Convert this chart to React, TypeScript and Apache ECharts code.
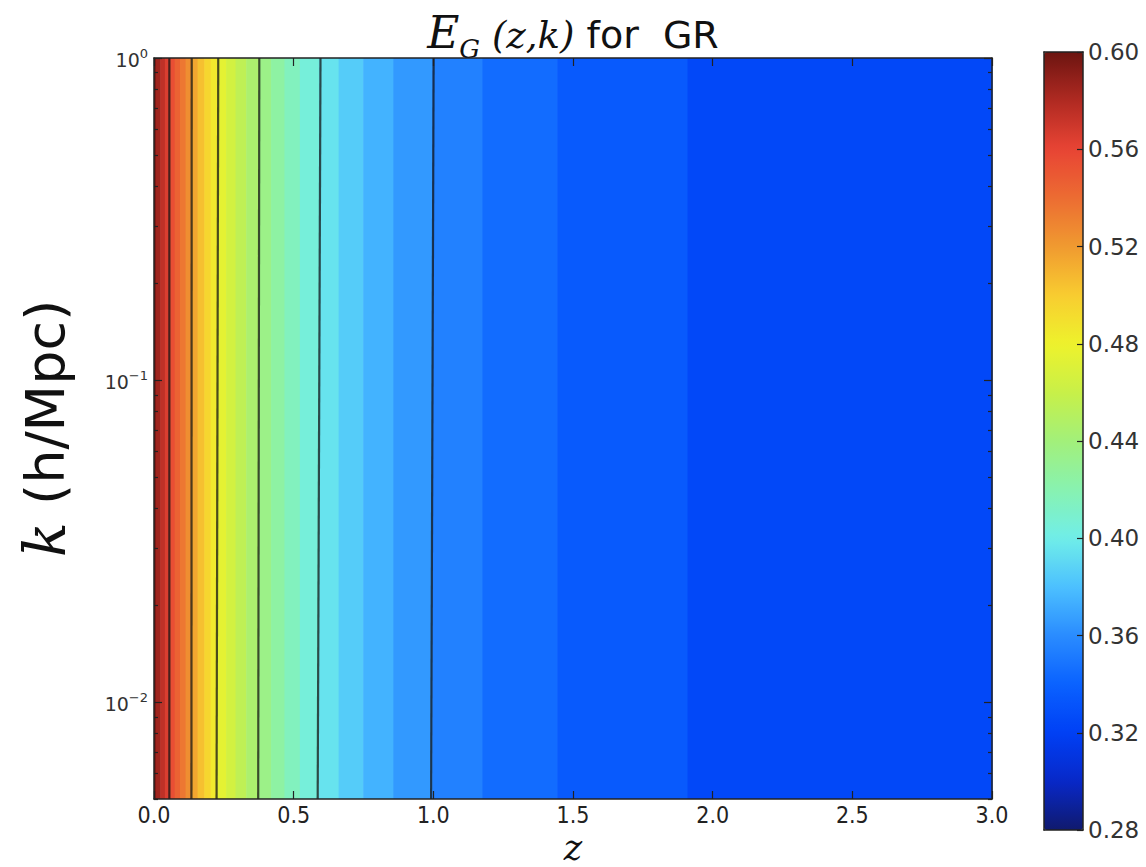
import React, { useEffect, useRef } from 'react';
import * as echarts from 'echarts';

// Filled-contour bands: band i spans z in [zEdges[i], zEdges[i+1]] with value bandValues[i]
const zEdges = [0, 0.007, 0.0225, 0.039, 0.056, 0.074, 0.093, 0.113, 0.133, 0.156, 0.18, 0.203, 0.226, 0.258, 0.292, 0.33, 0.376, 0.419, 0.467, 0.522, 0.59, 0.661, 0.749, 0.857, 0.996, 1.176, 1.444, 1.91, 3.0];
const bandValues = [0.595, 0.585, 0.575, 0.565, 0.555, 0.545, 0.535, 0.525, 0.515, 0.505, 0.495, 0.485, 0.475, 0.465, 0.455, 0.445, 0.435, 0.425, 0.415, 0.405, 0.395, 0.385, 0.375, 0.365, 0.355, 0.345, 0.335, 0.325];

// Contour lines (E_G levels) with z position at top (k=1) and bottom (k=kMin)
const contourLevels = [0.56, 0.52, 0.48, 0.44, 0.4, 0.36];
const contourZTop = [0.055, 0.135, 0.23, 0.377, 0.596, 1.001];
const contourZBottom = [0.055, 0.134, 0.224, 0.373, 0.586, 0.992];

const kMin = 0.005;
const kMax = 1;
const zMin = 0;
const zMax = 3;
const zInterval = 0.5;
const yMajorTicks = [0.01, 0.1, 1];
const yMinorTicks = [0.005, 0.006, 0.007, 0.008, 0.009, 0.02, 0.03, 0.04, 0.05, 0.06, 0.07, 0.08, 0.09, 0.2, 0.3, 0.4, 0.5, 0.6, 0.7, 0.8, 0.9];
const cbMin = 0.28;
const cbMax = 0.6;
const cbInterval = 0.04;

const colorStops = ['#101a6e', '#0828c8', '#0040f5', '#0a62ff', '#2a8cff', '#4cc0ff', '#70eee8', '#88f2b0', '#a2f07a', '#c8f048', '#eef22c', '#f8cc30', '#f09a30', '#ec6c32', '#e84434', '#b02a22', '#6c1410'];

const GRID = { left: 154, top: 58, width: 838, height: 741 };
const CB = { left: 1044, top: 52, width: 39, height: 778 };
const AX = '#222';

export default function App() {
  const ref = useRef<HTMLDivElement>(null);
  useEffect(() => {
    if (!ref.current) return;
    const chart = echarts.init(ref.current, undefined, { renderer: 'svg' });

    const bandData = bandValues.map((v, i) => [zEdges[i], zEdges[i + 1], v]);
    const lineSeries = contourLevels.map((lv, i) => ({
      type: 'line',
      name: 'EG=' + lv,
      xAxisIndex: 0,
      yAxisIndex: 0,
      data: [[contourZTop[i], kMax], [contourZBottom[i], kMin]],
      symbol: 'none',
      silent: true,
      z: 5,
      lineStyle: { color: 'rgba(20,20,20,0.75)', width: 2.2 },
    }));

    const supFmt = (v: number) => {
      const e = Math.round(Math.log10(v));
      return '{b|10}{s|' + (e < 0 ? '\u2212' + -e : String(e)) + '}';
    };

    const mainX = (pos: 'bottom' | 'top', labels: boolean) => ({
      type: 'value',
      gridIndex: 0,
      position: pos,
      min: zMin,
      max: zMax,
      interval: zInterval,
      z: 10,
      axisLine: { show: true, onZero: false, lineStyle: { color: AX, width: 1.5 } },
      axisTick: { show: true, inside: true, length: 8, lineStyle: { color: AX, width: 1.2 } },
      splitLine: { show: false },
      axisLabel: labels
        ? { show: true, fontSize: 23, lineHeight: 24, color: '#222', fontFamily: 'DejaVu Sans Condensed', margin: 4, formatter: (v: number) => v.toFixed(1) }
        : { show: false },
    });

    const mainY = (pos: 'left' | 'right', major: boolean, labels: boolean, showLine: boolean, named: boolean) => ({
      type: 'log',
      logBase: 10,
      gridIndex: 0,
      position: pos,
      min: kMin,
      max: kMax,
      z: 10,
      axisLine: { show: showLine, onZero: false, lineStyle: { color: AX, width: 1.5 } },
      axisTick: {
        show: true,
        inside: true,
        length: major ? 8 : 4,
        customValues: major ? yMajorTicks : yMinorTicks,
        lineStyle: { color: AX, width: 1.2 },
      },
      splitLine: { show: false },
      minorTick: { show: false },
      axisLabel: labels
        ? {
            show: true,
            customValues: yMajorTicks,
            formatter: supFmt,
            margin: 6,
            rich: {
              b: { fontSize: 19, color: '#333', fontFamily: 'DejaVu Sans', lineHeight: 22, verticalAlign: 'bottom' },
              s: { fontSize: 13, color: '#333', fontFamily: 'DejaVu Sans', lineHeight: 22, verticalAlign: 'top' },
            },
          }
        : { show: false },
      name: named ? '{k|k}{u| (h/Mpc)}' : '',
      nameLocation: 'middle',
      nameGap: 80,
      nameTextStyle: {
        rich: {
          k: { fontFamily: 'DejaVu Serif', fontStyle: 'italic', fontSize: 58, color: '#111' },
          u: { fontFamily: 'DejaVu Sans', fontSize: 54, color: '#111' },
        },
      },
    });

    const option: any = {
      animation: false,
      backgroundColor: '#ffffff',
      title: {
        text: '{e|E}{g|G}{m| (z,k)}{t| for  GR}',
        left: 'center',
        top: 8,
        padding: 0,
        textStyle: {
          fontWeight: 'normal',
          rich: {
            e: { fontFamily: 'DejaVu Serif', fontStyle: 'italic', fontWeight: 'normal', fontSize: 44, color: '#111', verticalAlign: 'bottom', lineHeight: 46 },
            g: { fontFamily: 'DejaVu Serif', fontStyle: 'italic', fontWeight: 'normal', fontSize: 26, color: '#111', verticalAlign: 'bottom', lineHeight: 46, padding: [0, 0, -8, 0] },
            m: { fontFamily: 'DejaVu Serif', fontStyle: 'italic', fontWeight: 'normal', fontSize: 37, color: '#111', verticalAlign: 'bottom', lineHeight: 46 },
            t: { fontFamily: 'DejaVu Sans', fontWeight: 'normal', fontSize: 38, color: '#111', verticalAlign: 'bottom', lineHeight: 46 },
          },
        },
      },
      graphic: [
        {
          type: 'text',
          x: GRID.left + GRID.width / 2,
          y: 848,
          style: {
            text: 'z',
            fontFamily: 'DejaVu Serif',
            fontStyle: 'italic',
            fontSize: 35,
            lineHeight: 34,
            fill: '#111',
            align: 'center',
            verticalAlign: 'middle',
          },
        },
      ],
      grid: [
        { ...GRID, containLabel: false, outerBoundsMode: 'none' },
        { ...CB, containLabel: false, outerBoundsMode: 'none' },
      ],
      xAxis: [
        mainX('bottom', true),
        mainX('top', false),
        {
          type: 'value', gridIndex: 1, position: 'bottom', min: 0, max: 1, z: 10,
          axisLine: { show: true, onZero: false, lineStyle: { color: AX, width: 1.5 } },
          axisTick: { show: false }, axisLabel: { show: false }, splitLine: { show: false },
        },
        {
          type: 'value', gridIndex: 1, position: 'top', min: 0, max: 1, z: 10,
          axisLine: { show: true, onZero: false, lineStyle: { color: AX, width: 1.5 } },
          axisTick: { show: false }, axisLabel: { show: false }, splitLine: { show: false },
        },
      ],
      yAxis: [
        mainY('left', true, true, true, true),
        mainY('left', false, false, false, false),
        mainY('right', true, false, true, false),
        mainY('right', false, false, false, false),
        {
          type: 'value', gridIndex: 1, position: 'right', min: cbMin, max: cbMax, interval: cbInterval, z: 10,
          axisLine: { show: true, onZero: false, lineStyle: { color: AX, width: 1.5 } },
          axisTick: { show: true, inside: true, length: 6, lineStyle: { color: AX, width: 1.2 } },
          splitLine: { show: false },
          axisLabel: { show: true, fontSize: 23, color: '#333', fontFamily: 'DejaVu Sans', margin: 5, formatter: (v: number) => v.toFixed(2) },
        },
        {
          type: 'value', gridIndex: 1, position: 'left', min: cbMin, max: cbMax, interval: cbInterval, z: 10,
          axisLine: { show: true, onZero: false, lineStyle: { color: AX, width: 1.5 } },
          axisTick: { show: false }, axisLabel: { show: false }, splitLine: { show: false },
        },
      ],
      visualMap: {
        type: 'continuous',
        min: cbMin,
        max: cbMax,
        dimension: 2,
        seriesIndex: 0,
        inRange: { color: colorStops },
        orient: 'vertical',
        left: CB.left,
        top: CB.top,
        itemWidth: CB.width,
        itemHeight: CB.height,
        calculable: false,
        hoverLink: false,
        padding: 0,
        show: true,
      },
      series: [
        {
          type: 'custom',
          xAxisIndex: 0,
          yAxisIndex: 0,
          data: bandData,
          encode: { x: [0, 1] },
          silent: true,
          z: 2,
          renderItem: (params: any, api: any) => {
            const p0 = api.coord([api.value(0), kMax]);
            const p1 = api.coord([api.value(1), kMin]);
            return {
              type: 'rect',
              shape: { x: p0[0], y: p0[1], width: p1[0] - p0[0] + 0.6, height: p1[1] - p0[1] },
              style: { fill: api.visual('color') },
            };
          },
        },
        ...lineSeries,
      ],
    };
    chart.setOption(option);
    return () => chart.dispose();
  }, []);
  return (
    <div
      ref={ref}
      style={{ position: 'fixed', left: 0, top: 0, width: 1146, height: 867, background: '#fff' }}
    />
  );
}
